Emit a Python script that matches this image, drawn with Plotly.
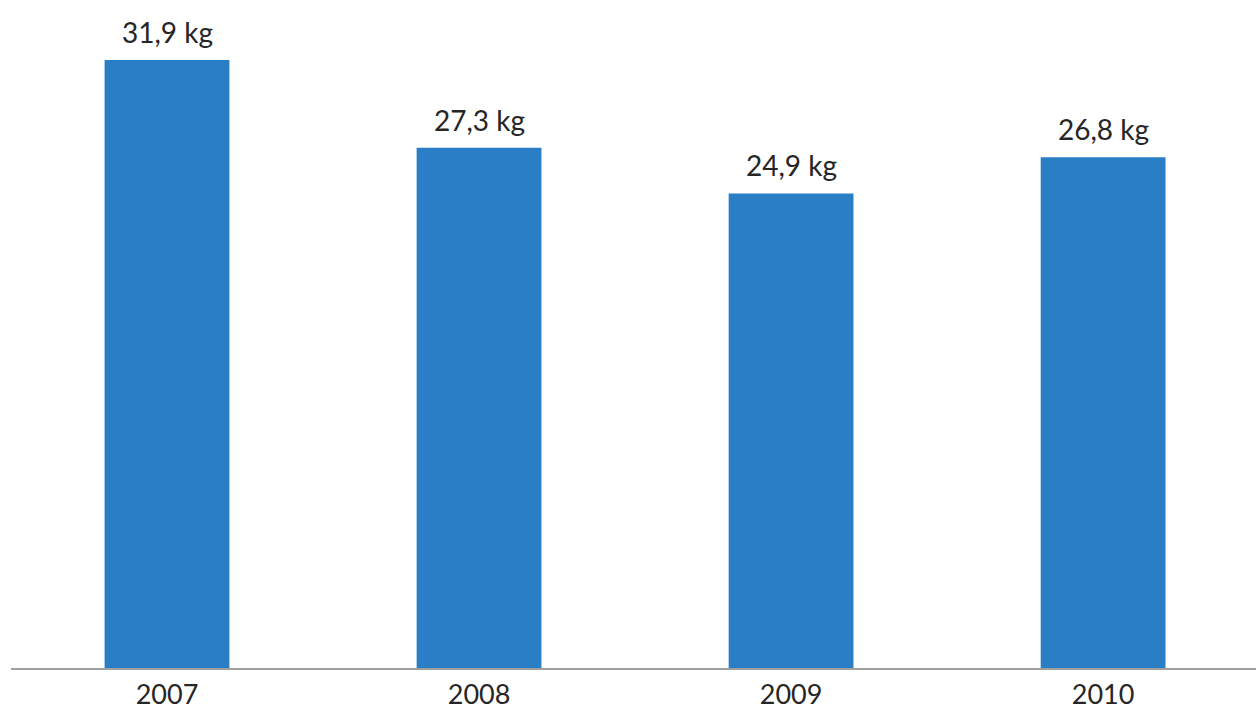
import plotly.graph_objects as go

years = ["2007", "2008", "2009", "2010"]
values = [31.9, 27.3, 24.9, 26.8]
labels = ["31,9 kg", "27,3 kg", "24,9 kg", "26,8 kg"]

FONT = "Lato, Open Sans, sans-serif"

fig = go.Figure(go.Bar(
    x=years, y=values, width=0.4,
    marker=dict(color="#2A7EC6", line=dict(width=0)),
    hoverinfo="skip",
))

for i, (v, lab) in enumerate(zip(values, labels)):
    fig.add_annotation(x=i, y=v, xref="x", yref="y", text=lab, showarrow=False,
                       yanchor="bottom", yshift=9,
                       font=dict(family=FONT, size=28, color="#262626"))

fig.update_layout(
    width=1256, height=711,
    margin=dict(l=11, r=0, t=20, b=43),
    paper_bgcolor="white", plot_bgcolor="white",
    showlegend=False,
    font=dict(family=FONT, size=28, color="#262626"),
    xaxis=dict(type="category", range=[-0.5, 3.49], showline=True, linecolor="#A0A0A0",
               linewidth=2, ticks="", showgrid=False, tickfont=dict(size=27),
               ticklabelstandoff=2, automargin=False),
    yaxis=dict(range=[0, 34.0], visible=False, showgrid=False, automargin=False),
)

fig.write_html("out.html")
